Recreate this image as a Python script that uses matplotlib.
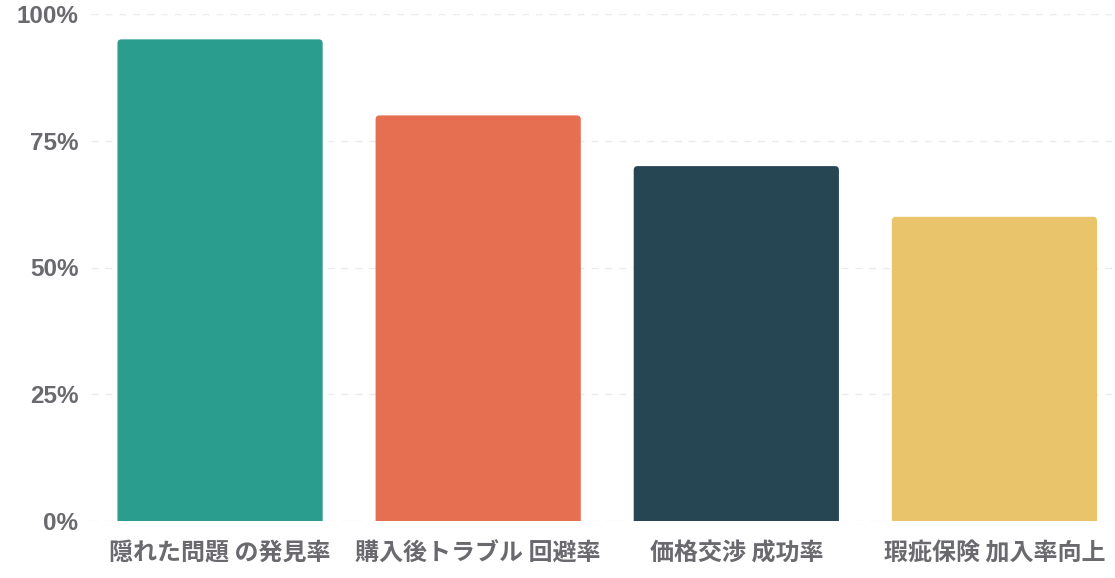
import numpy as np
from matplotlib import pyplot as plt
from matplotlib.patches import FancyBboxPatch

plt.rcParams['font.family'] = ['Noto Sans CJK JP', 'DejaVu Sans']

categories = ['隠れた問題 の発見率', '購入後トラブル 回避率', '価格交渉 成功率', '瑕疵保険 加入率向上']
values = [95, 80, 70, 60]
colors = ['#2A9D8F', '#E76F51', '#264653', '#E9C46A']
yticks = [0, 25, 50, 75, 100]

fig = plt.figure(figsize=(11.15, 5.78), dpi=100)
ax = fig.add_axes([91/1115, 57/578, 1 - 91/1115, 507/578])

x = np.arange(len(categories))
bars = ax.bar(x, values, width=0.795, color=colors)

# rounded top corners: replace each bar with a rounded patch extending below 0
ax.set_xlim(-0.5, 3.467)
ax.set_ylim(0, 100)
r_px = 4
x_per_px = (3.467 + 0.5) / 1024
y_per_px = 100 / 507
for b in bars:
    b.set_visible(False)
    p = FancyBboxPatch((b.get_x(), -2), b.get_width(), b.get_height() + 2,
                       boxstyle="round,pad=0,rounding_size=%f" % (r_px * x_per_px),
                       mutation_aspect=y_per_px / x_per_px,
                       facecolor=b.get_facecolor(), edgecolor='none', zorder=3)
    ax.add_patch(p)

ax.set_yticks(yticks)
ax.set_yticklabels(['%d%%' % t for t in yticks], family='Liberation Sans',
                   fontweight='bold', fontsize=17.5, color='#69696e')
ax.set_xticks(x)
ax.set_xticklabels(categories, fontweight='bold', fontsize=17.3, color='#69696e')
ax.tick_params(axis='y', length=0, pad=9)
ax.tick_params(axis='x', length=0, pad=15)

ax.grid(axis='y', linestyle=(0, (5, 5)), color='#ebebeb', linewidth=1, zorder=0)
ax.set_axisbelow(True)
for s in ax.spines.values():
    s.set_visible(False)

fig.savefig('out.png', dpi=100)
